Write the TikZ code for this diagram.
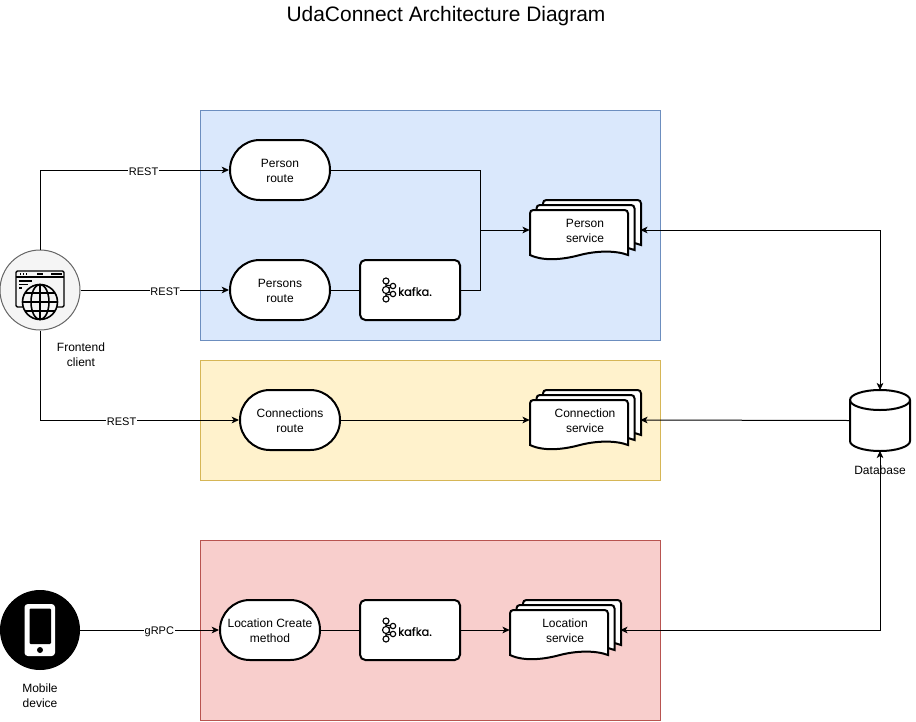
\documentclass[tikz,border=0pt]{standalone}
\usepackage{fontspec}
\setmainfont{Liberation Sans}
\newfontfamily\logofont[FakeBold=0.5]{Poppins}
\usepackage{tikz}
\usepackage{xcolor}
\usetikzlibrary{arrows.meta}

\definecolor{bluefill}{HTML}{DAE8FC}
\definecolor{blueline}{HTML}{6C8EBF}
\definecolor{yellowfill}{HTML}{FFF2CC}
\definecolor{yellowline}{HTML}{D6B656}
\definecolor{redfill}{HTML}{F8CECC}
\definecolor{redline}{HTML}{B85450}
\definecolor{greyfill}{HTML}{F5F5F5}
\definecolor{greyline}{HTML}{666666}

\newcommand{\servicedoc}[4]{
    \begin{scope}[shift={(#2,#3)}]
        \draw[sheet,shift={(13,-10)}] (-55,25) [rounded corners=2.5pt] -- (-55,-20) -- (43,-20) [sharp corners] -- (43,25) .. controls (30,20) and (10,21) .. (-5,25) .. controls (-20,29) and (-40,32) .. (-55,25) -- cycle;
        \draw[sheet,shift={(6.5,-5)}] (-55,25) [rounded corners=2.5pt] -- (-55,-20) -- (43,-20) [sharp corners] -- (43,25) .. controls (30,20) and (10,21) .. (-5,25) .. controls (-20,29) and (-40,32) .. (-55,25) -- cycle;
        \draw[sheet] (-55,25) [rounded corners=2.5pt] -- (-55,-20) -- (43,-20) [sharp corners] -- (43,25) .. controls (30,20) and (10,21) .. (-5,25) .. controls (-20,29) and (-40,32) .. (-55,25) -- cycle;
    \end{scope}
    \node[service] (#1) at (#2,#3) {#4};
}

\newcommand{\kafkalogo}[3]{
    \begin{scope}[shift={(#2,#3)}]
        \draw[logoline] (-24,-9) -- (-24,9) (-24,0) -- (-17,-4) (-24,0) -- (-17,4) (-24,-5) -- (-17,-4) (-24,5) -- (-17,4);
        \draw[logoline,fill=white] (-24,-9) circle (3);
        \draw[logoline,fill=white] (-24,0) circle (3.5);
        \draw[logoline,fill=white] (-24,9) circle (3);
        \draw[logoline,fill=white] (-17,-4) circle (2.7);
        \draw[logoline,fill=white] (-17,4) circle (2.7);
        \node[inner sep=0, font=\logofont\fontsize{8.6}{10}\selectfont] (#1) at (5,1.5) {kafka.};
    \end{scope}
}

\begin{document}
\begin{tikzpicture}[x=0.75pt, y=-0.75pt, >={Stealth[length=5.5pt,width=5pt,inset=1.5pt]},
    group/.style={line width=0.75pt},
    route/.style={rectangle, draw, fill=white, line width=1.5pt, rounded corners=22.4pt, minimum width=75pt, minimum height=45pt, inner sep=0pt, text height=19.2pt, align=center, font=\fontsize{9}{11.25}\selectfont},
    kafkabox/.style={rectangle, draw, fill=white, line width=1.5pt, rounded corners=4pt, minimum width=75pt, minimum height=45pt},
    service/.style={rectangle, minimum width=82.5pt, minimum height=45pt, inner sep=0pt, text height=19.2pt, align=center, font=\fontsize{9}{11.25}\selectfont},
    sheet/.style={draw, fill=white, line width=1.5pt},
    logoline/.style={line width=0.85pt},
    caption/.style={inner sep=0pt, align=center, font=\fontsize{9}{11.25}\selectfont},
    edgelabel/.style={fill=white, inner sep=0.5pt, yshift=-1.5pt, font=\fontsize{8.25}{10}\selectfont},
    conn/.style={line width=0.75pt},
    iconline/.style={line width=1pt}]

    \useasboundingbox (0,0) rectangle (916,721);
    \fill[white] (0,0) rectangle (916,721);

    \node[inner sep=0pt, font=\fontsize{15.7}{18}\selectfont] (title) at (446,16) {UdaConnect Architecture Diagram};

    \path[group, fill=bluefill, draw=blueline] (200.5,110.5) rectangle (660.5,340.5);
    \path[group, fill=yellowfill, draw=yellowline] (200.5,360.5) rectangle (660.5,480.5);
    \path[group, fill=redfill, draw=redline] (200.5,540.5) rectangle (660.5,720.5);

    % clients
    \node[circle, draw=greyline, fill=greyfill, line width=0.75pt, minimum size=60pt, inner sep=0pt] (frontend) at (40,290) {};
    \node[caption] (frontendtext) at (81,355) {Frontend\\client};
    \draw[iconline, rounded corners=1pt] (16,271) rectangle (64,307);
    \draw[iconline] (16,277) -- (64,277);
    \draw[iconline] (20,274) -- (21,274) (23,274) -- (24,274) (26,274) -- (27,274) (37,274) -- (43,274) (51,274) -- (62,274);
    \draw[iconline] (19,281) -- (32,281) (19,284.5) -- (28,284.5) (19,288) -- (22,288);
    \draw[line width=1.2pt, fill=greyfill] (40,302) circle (17.5);
    \draw[line width=1.2pt] (40,302) ellipse (9 and 17.5) (40,284.5) -- (40,319.5) (22.5,302) -- (57.5,302) (25,293) -- (55,293) (25,311) -- (55,311);

    \node[circle, fill=black, minimum size=60pt, inner sep=0pt] (mobile) at (40,630) {};
    \node[caption] (mobiletext) at (40,695.5) {Mobile\\device};
    \fill[white, rounded corners=2.5pt] (24.5,604) rectangle (55,656);
    \fill[black, rounded corners=0.8pt] (29.5,608.5) rectangle (51,644);
    \fill[black] (40,650) circle (3);

    % routes
    \node[route] (personroute) at (280,170) {Person\\route};
    \node[route] (personsroute) at (280,290) {Persons\\route};
    \node[kafkabox] (personskafka) at (410,290) {};
    \kafkalogo{personskafkatext}{410}{290}
    \servicedoc{personservice}{585}{230}{Person\\service}

    \node[route] (connectionsroute) at (290,420) {Connections\\route};
    \servicedoc{connectionservice}{585}{420}{Connection\\service}

    \node[route] (locationmethod) at (270,630) {Location Create\\method};
    \node[kafkabox] (locationkafka) at (410,630) {};
    \kafkalogo{locationkafkatext}{410}{630}
    \servicedoc{locationservice}{565}{630}{Location\\service}

    % database
    \node[rectangle, minimum width=45pt, minimum height=45pt, inner sep=0pt] (database) at (880,420.5) {};
    \draw[sheet] (850,400) -- (850,441) arc[start angle=180, end angle=0, x radius=30, y radius=10] -- (910,400) arc[start angle=360, end angle=180, x radius=30, y radius=10] -- cycle;
    \draw[line width=1.5pt] (850,400) arc[start angle=180, end angle=0, x radius=30, y radius=10];
    \node[caption] (databasetext) at (880,470) {Database};

    % connectors
    \coordinate (personjoin) at (480,230);
    \draw[conn, ->] (frontend.north) |- node[edgelabel, pos=0.774] {REST} (personroute.west);
    \draw[conn, ->] (frontend.east) -- node[edgelabel, pos=0.57] {REST} (personsroute.west);
    \draw[conn, ->] (frontend.south) |- node[edgelabel, pos=0.705] {REST} (connectionsroute.west);
    \draw[conn] (personroute.east) -| (personjoin);
    \draw[conn] (personsroute.east) -- (personskafka.west);
    \draw[conn] (personskafka.east) -| (personjoin);
    \draw[conn, ->] (personjoin) -- (personservice.west);
    \draw[conn, ->] (connectionsroute.east) -- (connectionservice.west);
    \draw[conn, ->] (database.west) -- (connectionservice.east);
    \draw[conn, <->] (personservice.east) -| (database.north);
    \draw[conn, <->] (locationservice.east) -| (database.south);
    \draw[conn, ->] (mobile.east) -- node[edgelabel, pos=0.57] {gRPC} (locationmethod.west);
    \draw[conn] (locationmethod.east) -- (locationkafka.west);
    \draw[conn, ->] (locationkafka.east) -- (locationservice.west);
\end{tikzpicture}
\end{document}
